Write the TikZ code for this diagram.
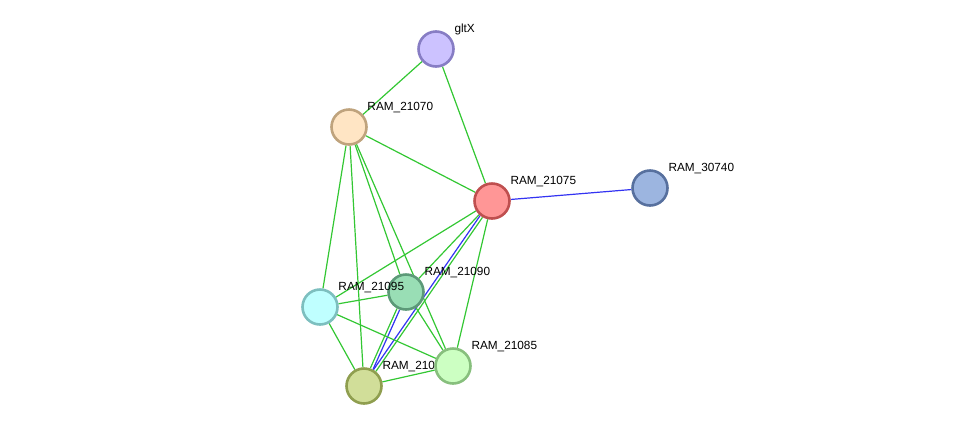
\documentclass[tikz,border=0pt]{standalone}
\usepackage{fontspec}
\usetikzlibrary{backgrounds}
\newfontfamily\labelfont{Liberation Sans}
\definecolor{kante}{rgb}{0.2,0.78,0.2}
\definecolor{blaukante}{rgb}{0.2,0.2,0.95}
\definecolor{gltxfill}{rgb}{0.8,0.76,1.0}
\definecolor{gltxrand}{rgb}{0.53,0.49,0.77}
\definecolor{aafill}{rgb}{1.0,0.9,0.77}
\definecolor{aarand}{rgb}{0.75,0.64,0.49}
\definecolor{abfill}{rgb}{1.0,0.59,0.59}
\definecolor{abrand}{rgb}{0.75,0.31,0.31}
\definecolor{acfill}{rgb}{0.61,0.71,0.88}
\definecolor{acrand}{rgb}{0.34,0.44,0.62}
\definecolor{adfill}{rgb}{0.6,0.87,0.71}
\definecolor{adrand}{rgb}{0.36,0.6,0.47}
\definecolor{aefill}{rgb}{0.75,1.0,1.0}
\definecolor{aerand}{rgb}{0.49,0.75,0.75}
\definecolor{affill}{rgb}{0.8,1.0,0.76}
\definecolor{afrand}{rgb}{0.53,0.75,0.49}
\definecolor{agfill}{rgb}{0.82,0.87,0.6}
\definecolor{agrand}{rgb}{0.56,0.62,0.31}
\tikzset{
  protein/.style={circle, draw, line width=2.6pt, minimum size=35pt, inner sep=0pt},
  lbl/.style={font=\labelfont\fontsize{11.8}{14}\selectfont, inner sep=1pt, xshift=4pt, text=black},
  verb/.style={kante, line width=1.2pt},
  blauverb/.style={blaukante, line width=1.2pt},
}
\begin{document}
\begin{tikzpicture}[x=1pt, y=-1pt]
    \useasboundingbox (0,0) rectangle (976,432);
    \node[protein, fill=gltxfill, draw=gltxrand, label={[lbl]45:gltX}] (G) at (436,49) {};
    \node[protein, fill=aafill, draw=aarand, label={[lbl]45:RAM\_21070}] (A70) at (349,127) {};
    \node[protein, fill=abfill, draw=abrand, label={[lbl]45:RAM\_21075}] (A75) at (492,201) {};
    \node[protein, fill=acfill, draw=acrand, label={[lbl]45:RAM\_30740}] (B40) at (650,188) {};
    \node[protein, fill=adfill, draw=adrand, label={[lbl]45:RAM\_21090}] (A90) at (406,292) {};
    \node[protein, fill=aefill, draw=aerand, label={[lbl]45:RAM\_21095}] (A95) at (320,307) {};
    \node[protein, fill=agfill, draw=agrand, label={[lbl]45:RAM\_210}] (A80) at (364,386) {};
    \node[protein, fill=affill, draw=afrand, label={[lbl]45:RAM\_21085}] (A85) at (453,366) {};

    \begin{scope}[on background layer]
      \draw[verb] (G) -- (A70);
      \draw[verb] (G) -- (A75);
      \draw[verb] (A70) -- (A75);
      \draw[verb] (A70) -- (A95);
      \draw[verb] (A70) -- (A80);
      \draw[verb] (A70) -- (A90);
      \draw[verb] (A70) -- (A85);
      \draw[verb] (A75) -- (A95);
      \draw[verb] (A75) -- (A90);
      \draw[verb] (A75) -- (A85);
      \draw[blauverb, transform canvas={shift={(-1.2,-0.85)}}] (A75) -- (A80);
      \draw[verb, transform canvas={shift={(1.2,0.85)}}] (A75) -- (A80);
      \draw[blauverb] (A75) -- (B40);
      \draw[verb] (A90) -- (A95);
      \draw[verb, transform canvas={shift={(-1.35,-0.6)}}] (A90) -- (A80);
      \draw[blauverb, transform canvas={shift={(1.35,0.6)}}] (A90) -- (A80);
      \draw[verb] (A90) -- (A85);
      \draw[verb] (A95) -- (A80);
      \draw[verb] (A95) -- (A85);
      \draw[verb] (A80) -- (A85);
    \end{scope}
  \end{tikzpicture}
\end{document}
